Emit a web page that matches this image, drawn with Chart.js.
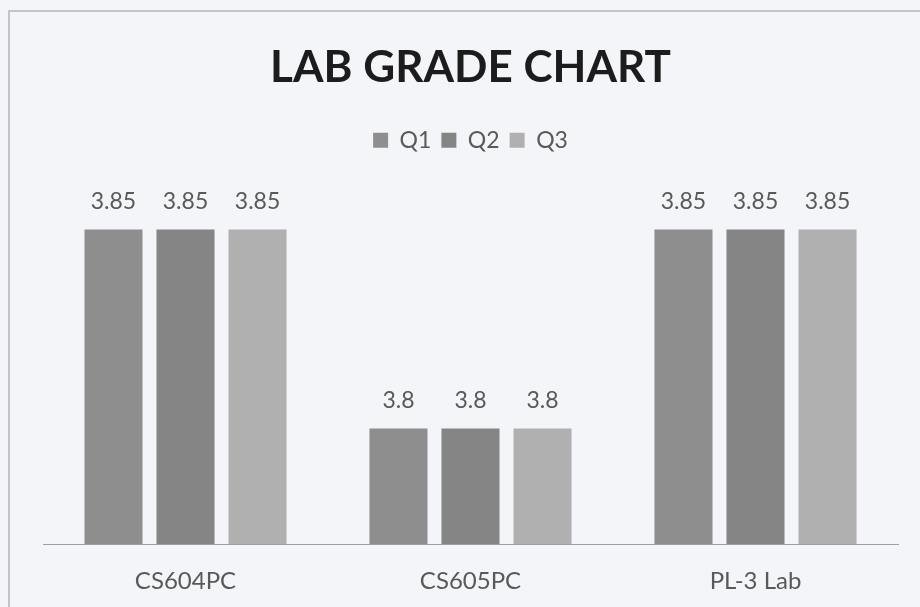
<!DOCTYPE html>
<html>
<head>
<meta charset="utf-8">
<script src="https://cdn.jsdelivr.net/npm/chart.js@4.4.0/dist/chart.umd.min.js"></script>
<style>
  html, body { margin: 0; padding: 0; background: #f4f5f8; }
  #wrap { width: 920px; height: 607px; position: relative; }
</style>
</head>
<body>
<div id="wrap"><canvas id="chart" width="920" height="607"></canvas></div>
<script>
const categories = ["CS604PC", "CS605PC", "PL-3 Lab"];
const q1 = [3.85, 3.8, 3.85];
const q2 = [3.85, 3.8, 3.85];
const q3 = [3.85, 3.8, 3.85];
const seriesNames = ["Q1", "Q2", "Q3"];
const seriesColors = ["#8e8e8e", "#858585", "#b0b0b0"];

const FONT = "Lato, 'Open Sans', sans-serif";

// background + outer frame of the scanned chart
const frame = {
    id: "frame",
    beforeDraw(chart) {
        const ctx = chart.ctx;
        ctx.save();
        ctx.fillStyle = "#f4f5f8";
        ctx.fillRect(0, 0, chart.width, chart.height);
        ctx.strokeStyle = "#b4b4b8";
        ctx.lineWidth = 1.5;
        ctx.beginPath();
        ctx.moveTo(9, chart.height);
        ctx.lineTo(9, 11);
        ctx.lineTo(chart.width, 11);
        ctx.stroke();
        ctx.restore();
    }
};

// value labels above each bar
const barLabels = {
    id: "barLabels",
    afterDatasetsDraw(chart) {
        const ctx = chart.ctx;
        ctx.save();
        ctx.font = "23px " + FONT;
        ctx.fillStyle = "#595959";
        ctx.textAlign = "center";
        ctx.textBaseline = "bottom";
        chart.data.datasets.forEach((ds, i) => {
            chart.getDatasetMeta(i).data.forEach((bar, j) => {
                ctx.fillText(String(ds.data[j]), bar.x, bar.y - 16);
            });
        });
        ctx.restore();
    }
};

new Chart(document.getElementById("chart"), {
    type: "bar",
    data: {
        labels: categories,
        datasets: [q1, q2, q3].map((d, i) => ({
            label: seriesNames[i],
            data: d,
            backgroundColor: seriesColors[i],
            borderWidth: 0,
            categoryPercentage: 0.758,
            barPercentage: 0.806
        }))
    },
    options: {
        responsive: false,
        animation: false,
        layout: { padding: { left: 43, right: 22, top: 0, bottom: -3 } },
        plugins: {
            title: {
                display: true,
                text: "LAB GRADE CHART",
                color: "#1c1c1c",
                font: { family: FONT, size: 44, weight: "bold" },
                padding: { top: 41, bottom: 25 }
            },
            legend: {
                position: "top",
                labels: {
                    boxWidth: 15,
                    boxHeight: 15,
                    padding: 10,
                    color: "#595959",
                    font: { family: FONT, size: 23 }
                }
            },
            tooltip: { enabled: false }
        },
        scales: {
            x: {
                grid: { display: false },
                border: { display: true, color: "#a0a0a0", width: 1 },
                ticks: {
                    color: "#595959",
                    padding: 17,
                    font: { family: FONT, size: 24, lineHeight: 1 }
                }
            },
            y: {
                display: false,
                min: 3.771,
                max: 3.867
            }
        }
    },
    plugins: [frame, barLabels]
});
</script>
</body>
</html>
